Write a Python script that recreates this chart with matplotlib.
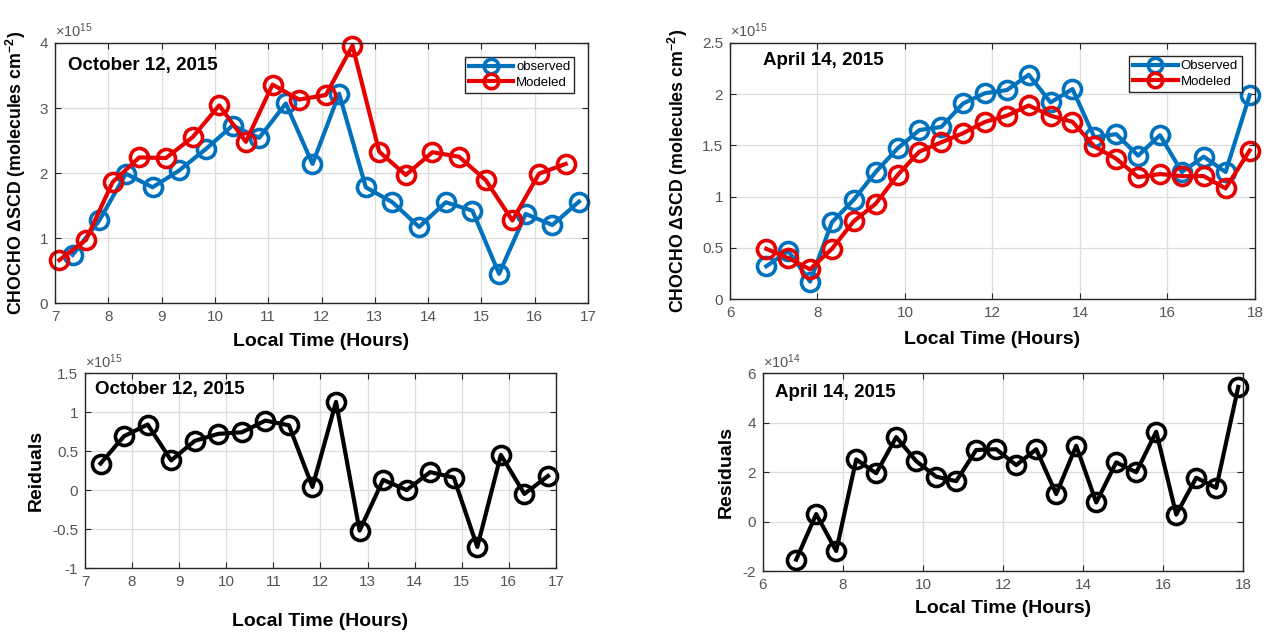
import numpy as np
import matplotlib
matplotlib.use("Agg")
import matplotlib.pyplot as plt
from matplotlib.ticker import FuncFormatter

plt.rcParams['font.family'] = ['Liberation Sans', 'DejaVu Sans']
plt.rcParams['mathtext.fontset'] = 'custom'
plt.rcParams['mathtext.rm'] = 'Liberation Sans'
plt.rcParams['mathtext.it'] = 'Liberation Sans:italic'
plt.rcParams['mathtext.bf'] = 'Liberation Sans:bold'

# ---------------- Data ----------------
# October 12, 2015 (SCD in units of 1e15 molecules cm^-2)
oct_obs_t = [7.33, 7.83, 8.33, 8.83, 9.33, 9.83, 10.33, 10.83, 11.33, 11.83,
             12.33, 12.83, 13.33, 13.83, 14.33, 14.83, 15.33, 15.83, 16.33, 16.83]
oct_obs = [0.74, 1.27, 1.99, 1.78, 2.04, 2.37, 2.73, 2.54, 3.07, 2.14,
           3.22, 1.78, 1.55, 1.17, 1.55, 1.42, 0.45, 1.37, 1.20, 1.56]
oct_mod_t = [7.08, 7.58, 8.08, 8.58, 9.08, 9.58, 10.08, 10.58, 11.08, 11.58,
             12.08, 12.58, 13.08, 13.58, 14.08, 14.58, 15.08, 15.58, 16.08, 16.58]
oct_mod = [0.66, 0.97, 1.86, 2.24, 2.23, 2.55, 3.04, 2.48, 3.36, 3.13,
           3.20, 3.96, 2.33, 1.97, 2.32, 2.25, 1.89, 1.27, 1.99, 2.14]
oct_res_t = [7.33, 7.83, 8.33, 8.83, 9.33, 9.83, 10.33, 10.83, 11.33, 11.83,
             12.33, 12.83, 13.33, 13.83, 14.33, 14.83, 15.33, 15.83, 16.33, 16.83]
oct_res = [0.34, 0.69, 0.84, 0.38, 0.63, 0.72, 0.74, 0.89, 0.83, 0.04,
           1.13, -0.52, 0.13, 0.00, 0.23, 0.16, -0.73, 0.45, -0.05, 0.18]

# April 14, 2015 (SCD in units of 1e15, residuals in units of 1e14)
apr_t = [6.83, 7.33, 7.83, 8.33, 8.83, 9.33, 9.83, 10.33, 10.83, 11.33, 11.83, 12.33,
         12.83, 13.33, 13.83, 14.33, 14.83, 15.33, 15.83, 16.33, 16.83, 17.33, 17.88]
apr_obs = [0.32, 0.47, 0.17, 0.75, 0.97, 1.24, 1.47, 1.65, 1.68, 1.91, 2.01, 2.04,
           2.19, 1.92, 2.05, 1.58, 1.61, 1.40, 1.60, 1.24, 1.39, 1.24, 1.99]
apr_mod = [0.49, 0.40, 0.29, 0.49, 0.76, 0.93, 1.21, 1.44, 1.53, 1.62, 1.73, 1.79,
           1.89, 1.79, 1.73, 1.49, 1.37, 1.19, 1.22, 1.20, 1.20, 1.08, 1.45]
apr_res = [-1.54, 0.30, -1.19, 2.51, 1.95, 3.41, 2.44, 1.81, 1.63, 2.89, 2.92, 2.28,
           2.92, 1.11, 3.06, 0.77, 2.39, 1.99, 3.63, 0.28, 1.77, 1.36, 5.44]

# ---------------- Style ----------------
BLUE = '#0072BD'
RED = '#E60000'
BLACK = '#000000'
GRID = '#dcdcdc'
TICKC = '#555555'
LINE_KW = dict(lw=3.0, marker='o', ms=13, mew=2.6, mfc='none', clip_on=False)

fig = plt.figure(figsize=(12.74, 6.37), dpi=100)

gfmt = FuncFormatter(lambda v, p: ('%g' % round(v, 6)).replace('\u2212', '-'))

def style_axes(ax, xlim, xticks, ylim, yticks, exp):
    ax.set_xlim(*xlim)
    ax.set_ylim(*ylim)
    ax.set_xticks(xticks)
    ax.set_yticks(yticks)
    ax.xaxis.set_major_formatter(gfmt)
    ax.yaxis.set_major_formatter(gfmt)
    ax.grid(True, color=GRID, lw=0.9)
    ax.set_axisbelow(True)
    ax.tick_params(direction='in', top=True, right=True, labelsize=11,
                   colors='#262626', labelcolor=TICKC, length=4, width=0.8, pad=5)
    for s in ax.spines.values():
        s.set_color('#262626')
        s.set_linewidth(1.0)
    ax.text(0.0, 1.012, r'$\times 10^{%d}$' % exp, transform=ax.transAxes,
            fontsize=10.5, color=TICKC, ha='left', va='bottom')

ylab_scd = r'CHOCHO $\mathbf{\Delta}$SCD (molecules cm$^{\mathbf{-2}}$)'

def add_legend(ax, anchor):
    lg = ax.legend(loc='upper right', bbox_to_anchor=anchor, fontsize=9.5,
                   handlelength=3.4, markerscale=0.8, borderpad=0.3, labelspacing=0.25,
                   handletextpad=0.2, borderaxespad=0, fancybox=False, framealpha=1)
    lg.get_frame().set_edgecolor('#262626')
    lg.get_frame().set_linewidth(1.0)
    return lg

# ---- Top-left ----
ax1 = fig.add_axes([0.0432, 0.5243, 0.4184, 0.4082])
ax1.plot(oct_obs_t, oct_obs, color=BLUE, label='observed', **LINE_KW)
ax1.plot(oct_mod_t, oct_mod, color=RED, label='Modeled', **LINE_KW)
style_axes(ax1, (7, 17), range(7, 18), (0, 4), [0, 1, 2, 3, 4], 15)
ax1.set_xlabel('Local Time (Hours)', fontsize=14, fontweight='bold')
ax1.set_ylabel(ylab_scd, fontsize=12.8, fontweight='bold')
ax1.xaxis.set_label_coords(0.5, -0.115)
ax1.yaxis.set_label_coords(-0.05, 0.5)
ax1.text(0.024, 0.915, 'October 12, 2015', transform=ax1.transAxes,
         fontsize=13.5, fontweight='bold', va='center', ha='left')
add_legend(ax1, (0.974, 0.946))

# ---- Top-right ----
ax2 = fig.add_axes([0.573, 0.5306, 0.412, 0.4019])
ax2.plot(apr_t, apr_obs, color=BLUE, label='Observed', **LINE_KW)
ax2.plot(apr_t, apr_mod, color=RED, label='Modeled', **LINE_KW)
style_axes(ax2, (6, 18), range(6, 19, 2), (0, 2.5), [0, 0.5, 1, 1.5, 2, 2.5], 15)
ax2.set_xlabel('Local Time (Hours)', fontsize=14, fontweight='bold')
ax2.set_ylabel(ylab_scd, fontsize=12.8, fontweight='bold')
ax2.xaxis.set_label_coords(0.5, -0.125)
ax2.yaxis.set_label_coords(-0.076, 0.5)
ax2.text(0.063, 0.93, 'April 14, 2015', transform=ax2.transAxes,
         fontsize=13.5, fontweight='bold', va='center', ha='left')
add_legend(ax2, (0.975, 0.949))

# ---- Bottom-left ----
ax3 = fig.add_axes([0.0667, 0.1083, 0.3697, 0.3061])
ax3.plot(oct_res_t, oct_res, color=BLACK, **LINE_KW)
style_axes(ax3, (7, 17), range(7, 18), (-1, 1.5), [-1, -0.5, 0, 0.5, 1, 1.5], 15)
ax3.set_xlabel('Local Time (Hours)', fontsize=14, fontweight='bold')
ax3.set_ylabel('Reiduals', fontsize=14, fontweight='bold')
ax3.xaxis.set_label_coords(0.5, -0.23)
ax3.yaxis.set_label_coords(-0.085, 0.5)
ax3.text(0.021, 0.918, 'October 12, 2015', transform=ax3.transAxes,
         fontsize=13.5, fontweight='bold', va='center', ha='left')

# ---- Bottom-right ----
ax4 = fig.add_axes([0.5989, 0.1036, 0.3768, 0.3108])
ax4.plot(apr_t, apr_res, color=BLACK, **LINE_KW)
style_axes(ax4, (6, 18), range(6, 19, 2), (-2, 6), [-2, 0, 2, 4, 6], 14)
ax4.set_xlabel('Local Time (Hours)', fontsize=14, fontweight='bold')
ax4.set_ylabel('Residuals', fontsize=14, fontweight='bold')
ax4.xaxis.set_label_coords(0.5, -0.146)
ax4.yaxis.set_label_coords(-0.058, 0.5)
ax4.text(0.025, 0.9, 'April 14, 2015', transform=ax4.transAxes,
         fontsize=13.5, fontweight='bold', va='center', ha='left')

fig.savefig('out.png', dpi=100)
